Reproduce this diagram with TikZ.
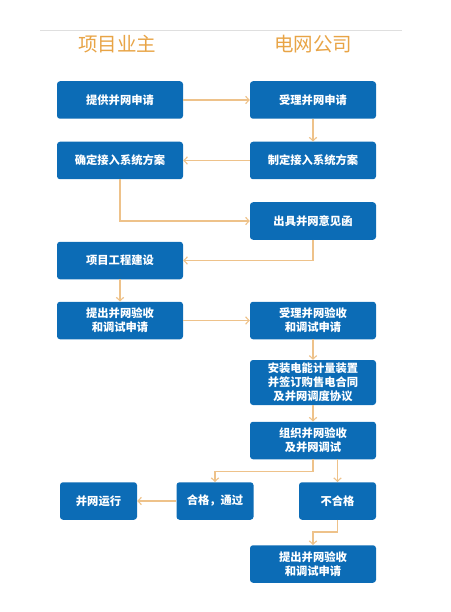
\documentclass[tikz,border=0pt]{standalone}
\usepackage{fontspec}
\setmainfont{Noto Sans CJK SC}
\usetikzlibrary{positioning,calc,arrows.meta}
\definecolor{boxblue}{RGB}{12,108,182}
\definecolor{flowtan}{RGB}{238,194,138}
\definecolor{headorange}{RGB}{232,164,70}
\tikzset{
	->, >={Straight Barb[length=3.5pt,width=7.5pt]}, x=1pt, y=1pt,
	flow/.style={draw=flowtan, line width=1.1pt},
	box/.style={draw=none, fill=boxblue, rounded corners=3pt, text=white, font=\bfseries\fontsize{11.3}{14}\selectfont,
		minimum width=126pt, minimum height=37.5pt, align=center, inner sep=0pt},
	small box/.style={box, minimum width=77pt},
	head/.style={text=headorange, font=\fontsize{19.5}{22}\selectfont},
}
\begin{document}
\begin{tikzpicture}
	\useasboundingbox (0,0) rectangle (450,-612);
	\draw[-, gray!25, line width=0.8pt] (40,-30) -- (402,-30);
	\node[head] (owner) at (117,-44) {项目业主};
	\node[head] (grid) at (313,-44) {电网公司};

	% left column: owner
	\node[box] (apply) at (120,-100) {提供并网申请};
	\node[box] (confirm) at (120,-160.5) {确定接入系统方案};
	\node[box] (build) at (120,-260.5) {项目工程建设};
	\node[box] (request) at (120,-320.5) {提出并网验收\\和调试申请};

	% right column: grid company
	\node[box] (accept) at (313,-100) {受理并网申请};
	\node[box] (plan) at (313,-160.5) {制定接入系统方案};
	\node[box] (letter) at (313,-221) {出具并网意见函};
	\node[box] (check) at (313,-320.5) {受理并网验收\\和调试申请};
	\node[box, minimum height=45pt] (meter) at (313,-382.5) {安装电能计量装置\\并签订购售电合同\\及并网调度协议};
	\node[box] (test) at (313,-440.5) {组织并网验收\\及并网调试};

	% outcome
	\node[small box] (pass) at (215,-501) {合格，通过};
	\node[small box] (run) at (98.5,-501) {并网运行};
	\node[small box] (fail) at (337.5,-501) {不合格};
	\node[box] (again) at (313,-564) {提出并网验收\\和调试申请};

	\draw[flow] (apply) -- (accept);
	\draw[flow] (accept) -- (plan);
	\draw[flow] (plan) -- (confirm);
	\draw[flow] (confirm.south) |- (letter.west);
	\draw[flow] (letter.south) |- (build.east);
	\draw[flow] (build) -- (request);
	\draw[flow] (request) -- (check);
	\draw[flow] (check) -- (meter);
	\draw[flow] (meter) -- (test);
	\draw[flow] (test.south) -- ++(0,-12) -| (pass.north);
	\draw[flow] (test.south -| fail) -- (fail.north);
	\draw[flow] (pass) -- (run);
	\draw[flow] (fail.south) -- ++(0,-12) -| (again.north);
\end{tikzpicture}
\end{document}
